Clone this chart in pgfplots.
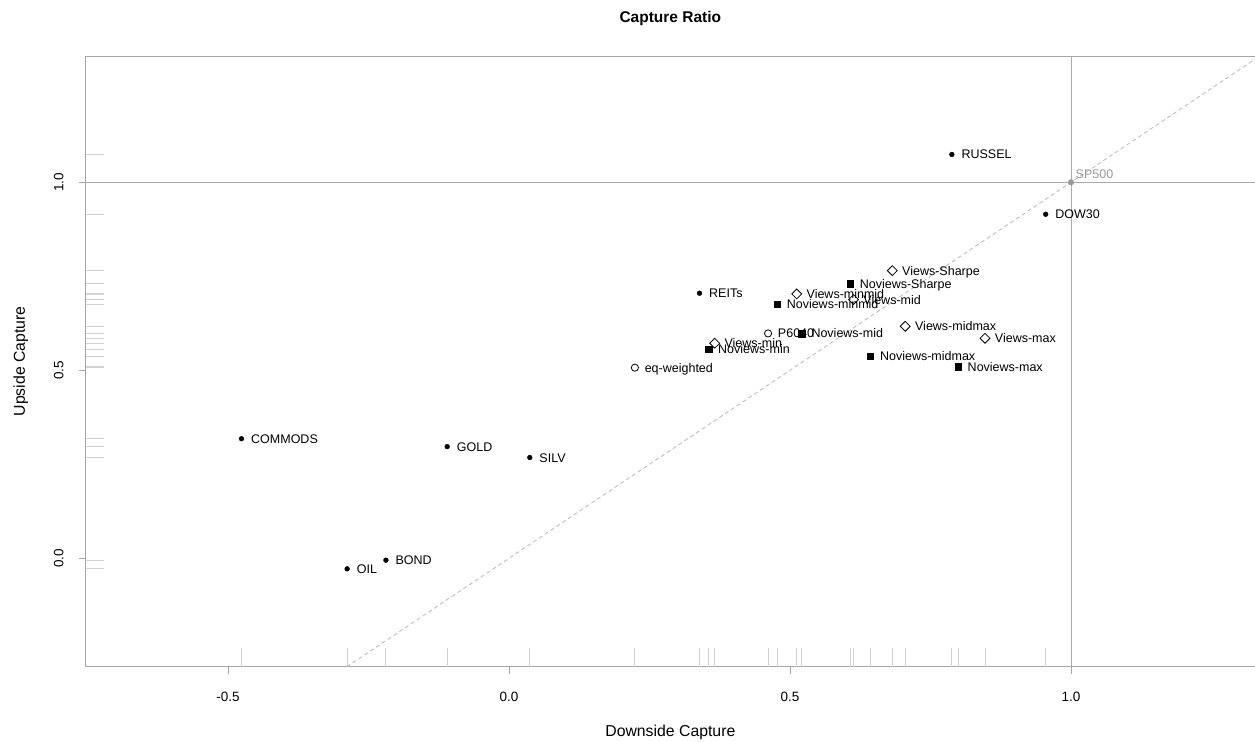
\documentclass[border=0pt]{standalone}
\usepackage{pgfplots}
\pgfplotsset{compat=1.18}
\usepackage{pgfplotstable}
\usepackage{fontspec}
\setmainfont{Liberation Sans}
\definecolor{axgray}{HTML}{A6A6A6}
\definecolor{ruggray}{HTML}{D2D2D2}
\definecolor{refgray}{HTML}{ABABAB}
\definecolor{diaggray}{HTML}{BDBDBD}
\definecolor{spgray}{HTML}{9A9A9A}

\pgfplotstableread{
x y label
0.788 1.074 RUSSEL
0.955 0.915 DOW30
0.339 0.705 REITs
-0.476 0.318 COMMODS
-0.110 0.297 GOLD
0.037 0.268 SILV
-0.219 -0.005 BOND
-0.288 -0.028 OIL
}\dots
\pgfplotstableread{
x y label
1.000 1.000 SP500
}\spx
\pgfplotstableread{
x y label
0.461 0.598 P6040
0.224 0.507 eq-weighted
}\circs
\pgfplotstableread{
x y label
0.682 0.765 Views-Sharpe
0.512 0.703 Views-minmid
0.613 0.688 Views-mid
0.705 0.617 Views-midmax
0.847 0.585 Views-max
0.366 0.572 Views-min
}\diams
\pgfplotstableread{
x y label
0.607 0.730 Noviews-Sharpe
0.477 0.676 Noviews-minmid
0.521 0.598 Noviews-mid
0.355 0.556 Noviews-min
0.643 0.538 Noviews-midmax
0.799 0.510 Noviews-max
}\squares

\pgfplotsset{
  rugx/.style={ruggray, line width=0.9pt, no marks, quiver={u=0, v=0.0497}},
  rugy/.style={ruggray, line width=0.9pt, no marks, quiver={u=0.0333, v=0}},
  lbl/.style={only marks, nodes near coords, point meta=explicit symbolic,
    every node near coord/.append style={anchor=base west, inner sep=0pt,
      xshift=9.5pt, yshift=-4.5pt, font=\fontsize{12.5}{14}\selectfont, text=black}},
}

\begin{document}
\begin{tikzpicture}[x=1pt,y=1pt]
\useasboundingbox (0,0) rectangle (1255,743);
\begin{axis}[
  at={(85.7pt,76.3pt)}, anchor=south west,
  scale only axis, width=1169.3pt, height=610.7pt,
  xmin=-0.7532, xmax=1.3274, ymin=-0.2883, ymax=1.3359,
  axis line style={axgray, line width=0.9pt},
  xtick={-0.5,0,0.5,1}, xticklabels={-0.5,0.0,0.5,1.0},
  ytick={0,0.5,1}, yticklabels={0.0,0.5,1.0},
  tick align=outside, tick pos=left, major tick length=7pt,
  tick style={axgray, line width=0.9pt},
  ticklabel style={font=\fontsize{13.5}{15}\selectfont, inner sep=0pt, text=black},
  xticklabel style={anchor=north},
  xticklabel shift=18pt,
  yticklabel style={rotate=90, anchor=south},
  yticklabel shift=15pt,
  every axis title shift=0pt,
  title={Capture Ratio},
  title style={font=\bfseries\fontsize{15.5}{18}\selectfont, at={(axis description cs:0.5,1.062)}, anchor=center},
  xlabel={Downside Capture},
  xlabel style={font=\fontsize{15.8}{18}\selectfont, at={(axis description cs:0.5,-0.108)}, anchor=center},
  ylabel={Upside Capture},
  ylabel style={font=\fontsize{15.8}{18}\selectfont, at={(axis description cs:-0.0556,0.5)}, anchor=center},
]
% rugs
\addplot[rugx] table[x=x, y expr=-0.2883] {\dots};
\addplot[rugx] table[x=x, y expr=-0.2883] {\spx};
\addplot[rugx] table[x=x, y expr=-0.2883] {\circs};
\addplot[rugx] table[x=x, y expr=-0.2883] {\diams};
\addplot[rugx] table[x=x, y expr=-0.2883] {\squares};
\addplot[rugy] table[x expr=-0.7532, y=y] {\dots};
\addplot[rugy] table[x expr=-0.7532, y=y] {\spx};
\addplot[rugy] table[x expr=-0.7532, y=y] {\circs};
\addplot[rugy] table[x expr=-0.7532, y=y] {\diams};
\addplot[rugy] table[x expr=-0.7532, y=y] {\squares};
% reference lines
\addplot[refgray, line width=0.9pt, no marks] coordinates {(-0.7532,1) (1.3274,1)};
\addplot[refgray, line width=0.9pt, no marks] coordinates {(1,-0.2883) (1,1.3359)};
\addplot[diaggray, line width=0.9pt, dash pattern=on 4pt off 3pt, no marks] coordinates {(-0.2883,-0.2883) (1.3359,1.3359)};
% points
\addplot[lbl, mark=*, mark size=2.4pt, black] table[x=x, y=y, meta=label] {\dots};
\addplot[lbl, mark=*, mark size=2.8pt, spgray, every node near coord/.append style={text=spgray, xshift=-5pt, yshift=8pt}] table[x=x, y=y, meta=label] {\spx};
\addplot[lbl, mark=o, mark size=3.6pt, black, mark options={line width=0.8pt}] table[x=x, y=y, meta=label] {\circs};
\addplot[lbl, mark=square, mark size=3.5pt, black, mark options={rotate=45, line width=0.8pt}] table[x=x, y=y, meta=label] {\diams};
\addplot[lbl, mark=square*, mark size=3.3pt, black] table[x=x, y=y, meta=label] {\squares};
\end{axis}
\end{tikzpicture}
\end{document}
